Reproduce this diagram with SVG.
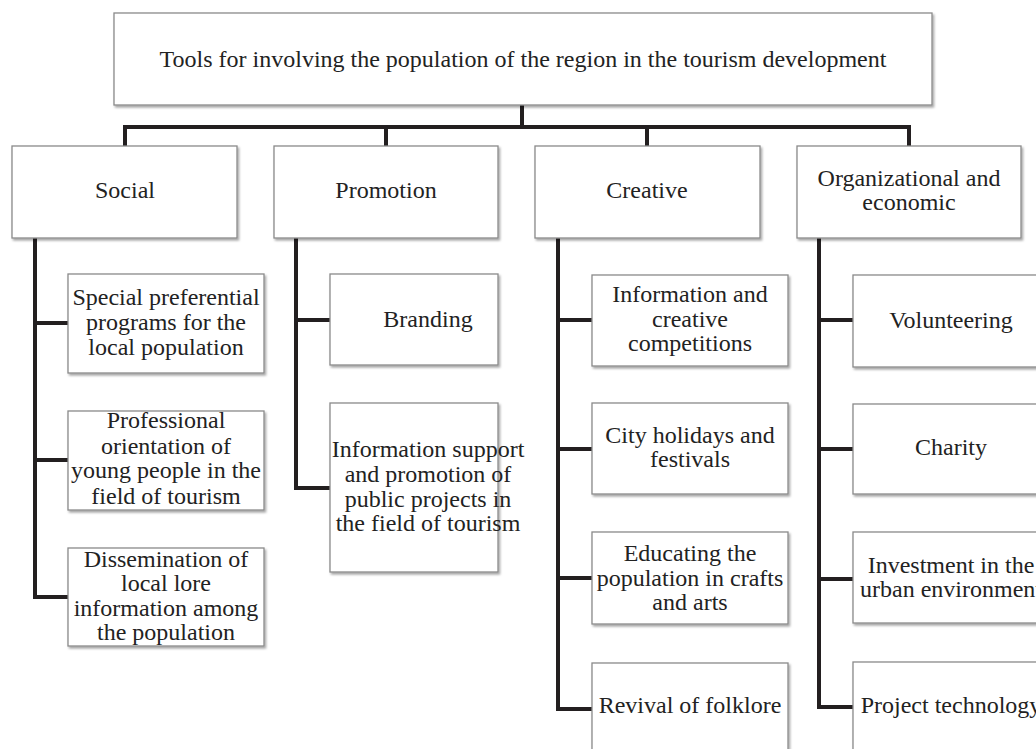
<svg xmlns="http://www.w3.org/2000/svg" width="1036" height="749" viewBox="0 0 1036 749">
<defs>
<filter id="sh" x="-5%" y="-5%" width="115%" height="120%">
<feDropShadow dx="1.5" dy="2" stdDeviation="1.2" flood-color="#000" flood-opacity="0.35"/>
</filter>
<style>
.box{fill:#fff;stroke:#8a8a8a;stroke-width:1.3;filter:url(#sh)}
.t{font-family:"Liberation Serif","Times New Roman",serif;font-size:24px;fill:#222;text-anchor:middle}
.c{fill:none;stroke:#231f20;stroke-width:4;stroke-linejoin:miter;stroke-linecap:butt}
</style>
</defs>
<rect width="1036" height="749" fill="#fff"/>
<g id="connectors">
<path class="c" d="M522 105V127M125 127H909M125 125V146M386 127V146M647 127V146M909 125V146"/>
<path class="c" d="M35 238V597H68M35 323H68M35 460H68"/>
<path class="c" d="M296 238V488H330M296 320H330"/>
<path class="c" d="M558 238V709H592M558 320H592M558 449H592M558 578H592"/>
<path class="c" d="M819 238V707H853M819 320H853M819 449H853M819 579H853"/>
</g>
<g id="root"><rect class="box" x="114" y="13" width="818" height="92"/><text class="t" x="523" y="67">Tools for involving the population of the region in the tourism development</text></g>
<g id="social"><rect class="box" x="12" y="146" width="225" height="92"/><text class="t" x="125" y="198">Social</text></g>
<g id="promotion"><rect class="box" x="274" y="146" width="224" height="92"/><text class="t" x="386" y="198">Promotion</text></g>
<g id="creative"><rect class="box" x="535" y="146" width="225" height="92"/><text class="t" x="647" y="198">Creative</text></g>
<g id="org"><rect class="box" x="797" y="146" width="224" height="92"/><text class="t" x="909" y="186">Organizational and</text><text class="t" x="909" y="210">economic</text></g>
<g id="s1"><rect class="box" x="68" y="274" width="196" height="99"/><text class="t" x="166" y="305">Special preferential</text><text class="t" x="166" y="330">programs for the</text><text class="t" x="166" y="355">local population</text></g>
<g id="s2"><rect class="box" x="68" y="411" width="196" height="99"/><text class="t" x="166" y="428">Professional</text><text class="t" x="166" y="454">orientation of</text><text class="t" x="166" y="478">young people in the</text><text class="t" x="166" y="504">field of tourism</text></g>
<g id="s3"><rect class="box" x="68" y="548" width="196" height="98"/><text class="t" x="166" y="567">Dissemination of</text><text class="t" x="166" y="591">local lore</text><text class="t" x="166" y="616">information among</text><text class="t" x="166" y="640">the population</text></g>
<g id="p1"><rect class="box" x="330" y="274" width="168" height="91"/><text class="t" x="428" y="327">Branding</text></g>
<g id="p2"><rect class="box" x="330" y="403" width="168" height="169"/><text class="t" x="428" y="457">Information support</text><text class="t" x="428" y="482">and promotion of</text><text class="t" x="428" y="507">public projects in</text><text class="t" x="428" y="531">the field of tourism</text></g>
<g id="c1"><rect class="box" x="592" y="275" width="196" height="91"/><text class="t" x="690" y="302">Information and</text><text class="t" x="690" y="327">creative</text><text class="t" x="690" y="351">competitions</text></g>
<g id="c2"><rect class="box" x="592" y="403" width="196" height="91"/><text class="t" x="690" y="443">City holidays and</text><text class="t" x="690" y="467">festivals</text></g>
<g id="c3"><rect class="box" x="592" y="532" width="196" height="92"/><text class="t" x="690" y="561">Educating the</text><text class="t" x="690" y="586">population in crafts</text><text class="t" x="690" y="610">and arts</text></g>
<g id="c4"><rect class="box" x="592" y="663" width="196" height="100"/><text class="t" x="690" y="713">Revival of folklore</text></g>
<g id="o1"><rect class="box" x="853" y="275" width="196" height="92"/><text class="t" x="951" y="328">Volunteering</text></g>
<g id="o2"><rect class="box" x="853" y="404" width="196" height="90"/><text class="t" x="951" y="455">Charity</text></g>
<g id="o3"><rect class="box" x="853" y="532" width="196" height="91"/><text class="t" x="951" y="573">Investment in the</text><text class="t" x="951" y="597">urban environment</text></g>
<g id="o4"><rect class="box" x="853" y="662" width="196" height="100"/><text class="t" x="951" y="713">Project technology</text></g>
</svg>
